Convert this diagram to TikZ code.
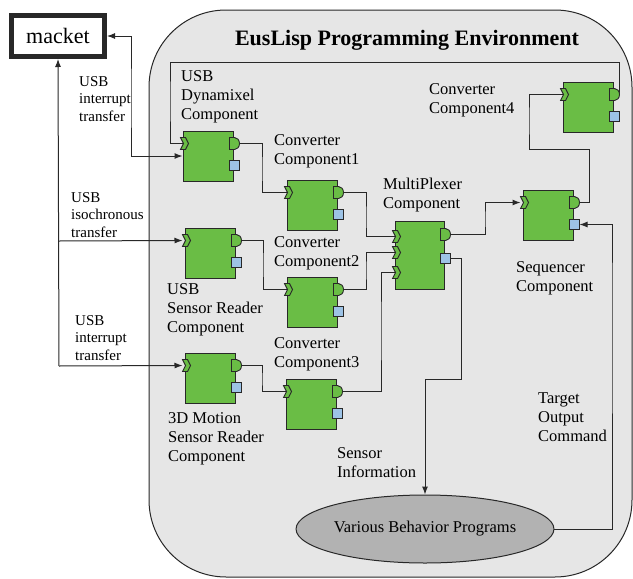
\documentclass[tikz,border=0pt]{standalone}
\usepackage{fontspec}
\setmainfont{Liberation Serif}
\usetikzlibrary{arrows.meta,shapes.geometric,calc}

\definecolor{compgreen}{RGB}{106,189,69}
\definecolor{stblue}{RGB}{157,195,230}
\definecolor{envgray}{RGB}{230,230,230}
\definecolor{progray}{RGB}{178,178,178}
\definecolor{edge}{RGB}{40,40,40}

\tikzset{
  envbox/.style={draw=edge, line width=1pt, fill=envgray, rounded corners=77pt},
  compbox/.style={draw=edge, line width=1pt, fill=compgreen, inner sep=0pt, minimum width=50pt},
  port/.style={draw=edge, line width=0.9pt, fill=compgreen, line join=miter},
  stport/.style={draw=edge, line width=0.9pt, fill=stblue},
  link/.style={draw=edge, line width=1pt},
  tip/.tip={Latex[length=8pt,width=6pt]},
  lbl/.style={anchor=west, align=left, inner sep=0pt, font=\fontsize{16.5}{19}\selectfont},
  sml/.style={anchor=west, align=left, inner sep=0pt, font=\fontsize{15}{17.5}\selectfont},
}

% component box: name, left x, top y
\newcommand\mkcomp[3]{%
  \node[compbox, minimum height=50pt] (#1) at (#2+25,#3+25) {};
  \coordinate (#1-in)  at ([yshift=-13pt]#1.north west);
  \coordinate (#1-out) at ([yshift=-13pt]#1.north east);
  \coordinate (#1-st)  at ([yshift=-35pt]#1.north east);
}
% data input port (notched), data output port (rounded), service port (square)
\newcommand\inport[1]{\draw[port] ([shift={(-2pt,6pt)}]#1) -- ([shift={(3pt,6pt)}]#1)
  -- ([shift={(6pt,0pt)}]#1) -- ([shift={(3pt,-6pt)}]#1) -- ([shift={(-2pt,-6pt)}]#1)
  -- ([shift={(1pt,0pt)}]#1) -- cycle;}
\newcommand\outport[1]{\draw[port] ([shift={(-4pt,6pt)}]#1) -- ([shift={(1pt,6pt)}]#1)
  arc[start angle=90,end angle=-90,x radius=5pt,y radius=6pt]
  -- ([shift={(-4pt,-6pt)}]#1) -- cycle;}
\newcommand\stport[1]{\draw[stport] ([shift={(-4pt,-5pt)}]#1) rectangle ([shift={(6pt,5pt)}]#1);}

\begin{document}
\begin{tikzpicture}[x=1pt,y=-1pt]
\useasboundingbox (0,0) rectangle (633,579);

% environment frame and title
\draw[envbox] (149,10) rectangle (632,577);
\node[font=\fontsize{22}{26}\selectfont\bfseries] (title) at (407,40) {EusLisp Programming Environment};

% external device
\node[draw=edge, line width=5pt, fill=white, minimum width=93pt, minimum height=41pt,
      inner sep=0pt, font=\fontsize{22}{26}\selectfont] (macket) at (58,36) {macket};

% components
\mkcomp{dyn}{183}{131}
\mkcomp{cA}{287}{180}
\mkcomp{sr}{185}{228}
\mkcomp{cB}{287}{277}
\mkcomp{mo}{185}{353}
\mkcomp{cC}{286}{379}
\mkcomp{seq}{523}{190}
\mkcomp{cD}{563}{82}
\node[compbox, minimum width=49pt, minimum height=68pt] (mp) at (419.5,255) {};
\coordinate (mp-in1) at ([yshift=-16pt]mp.north west);
\coordinate (mp-in2) at ([yshift=-32pt]mp.north west);
\coordinate (mp-in3) at ([yshift=-52pt]mp.north west);
\coordinate (mp-out) at ([yshift=-14pt]mp.north east);
\coordinate (mp-st)  at ([yshift=-38pt]mp.north east);

\node[ellipse, draw=edge, line width=1pt, fill=progray, minimum width=238pt, minimum height=68pt,
      inner sep=0pt, font=\fontsize{16.5}{19}\selectfont] (behav) at (425,529) {Various Behavior Programs};

% bus on the left
\coordinate (busiso) at (59,241);
\coordinate (busint) at (59,366);

% connectors
\draw[link,tip-tip] (macket.east) -| (131,100) |- (dyn.west);
\draw[link,-tip] (busint) -- (macket.south);
\draw[link,-tip] (busiso) -- ([xshift=-2pt]sr-in);
\draw[link,-tip] (busint) -- ([xshift=-2pt]mo-in);

\draw[link] (cD-out) -| (619,62) -| (170,100) |- (dyn-in);
\draw[link] (seq-out) -| (589,149) -| (529,120) |- (cD-in);
\draw[link] (dyn-out) -| (262,170) |- (cA-in);
\draw[link] (sr-out) -| (263,265) |- (cB-in);
\draw[link] (mo-out) -| (262,380) |- (cC-in);
\draw[link] (cA-out) -| (366,220) |- (mp-in1);
\draw[link] (cB-out) -| (366,270) |- (mp-in2);
\draw[link] (cC-out) -| (381,330) |- (mp-in3);
\draw[link,-tip] (mp-out) -| (485,220) |- ([xshift=-2pt]seq-in);
\draw[link,-tip] (mp-st) -| (461,379) -| (behav.north);
\draw[link,-tip] (behav.east) -| (612,300) |- ([xshift=6pt]seq-st);

% ports
\foreach \c in {dyn,cA,sr,cB,mo,cC,seq,cD}{
  \inport{\c-in}
  \outport{\c-out}
  \stport{\c-st}
}
\inport{mp-in1}
\inport{mp-in2}
\inport{mp-in3}
\outport{mp-out}
\stport{mp-st}

% labels
\node[lbl] (ldyn) at (181,97) {USB\\Dynamixel\\Component};
\node[lbl] (lcA) at (274,151) {Converter\\Component1};
\node[lbl] (lcB) at (274,253) {Converter\\Component2};
\node[lbl] (lcC) at (274,354) {Converter\\Component3};
\node[lbl] (lcD) at (429,100) {Converter\\Component4};
\node[lbl] (lmp) at (383,195) {MultiPlexer\\Component};
\node[lbl] (lseq) at (516,278) {Sequencer\\Component};
\node[lbl] (lsr) at (167,310) {USB\\Sensor Reader\\Component};
\node[lbl] (lmo) at (168,439) {3D Motion\\Sensor Reader\\Component};
\node[lbl] (lsens) at (337,463) {Sensor\\Information};
\node[lbl] (ltgt) at (538,417) {Target\\Output\\Command};
\node[sml] (lusb1) at (79,99) {USB\\interrupt\\transfer};
\node[sml] (lusb2) at (71,215) {USB\\isochronous\\transfer};
\node[sml] (lusb3) at (75,338) {USB\\interrupt\\transfer};
\end{tikzpicture}
\end{document}
